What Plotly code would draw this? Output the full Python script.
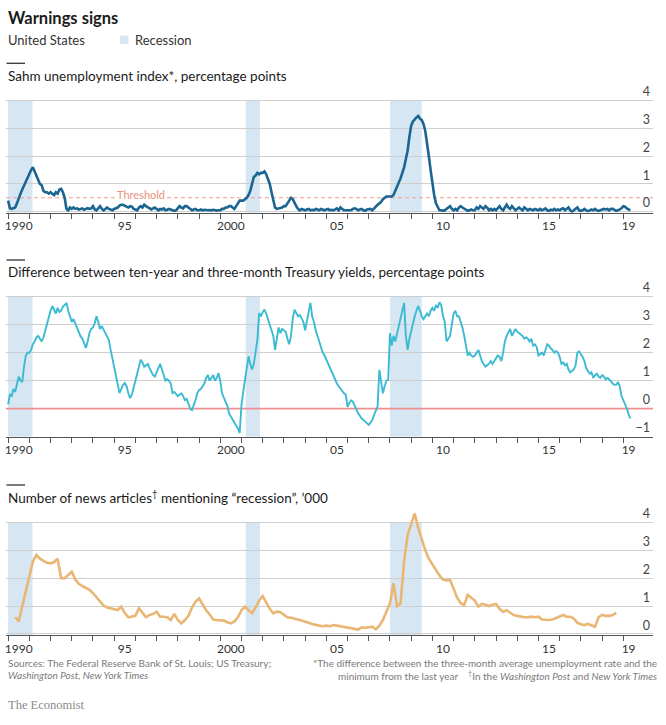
import plotly.graph_objects as go

# ---------------- data ----------------
START_YEAR = 1990  # monthly series start in January 1990

sahm_by_year = [
    [0.4, 0.12, 0.1, 0.12, 0.15, 0.3, 0.5, 0.65, 0.8, 0.95, 1.1, 1.25],      # 1990
    [1.4, 1.5, 1.6, 1.45, 1.3, 1.1, 1.0, 0.95, 0.75, 0.7, 0.7, 0.65],        # 1991
    [0.7, 0.65, 0.6, 0.7, 0.65, 0.8, 0.82, 0.7, 0.5, 0.1, 0.05, 0.15],       # 1992
    [0.1, 0.15, 0.1, 0.12, 0.08, 0.1, 0.12, 0.07, 0.1, 0.13, 0.1, 0.12],     # 1993
    [0.2, 0.08, 0.05, 0.12, 0.2, 0.1, 0.05, 0.1, 0.15, 0.1, 0.08, 0.05],     # 1994
    [0.1, 0.12, 0.15, 0.22, 0.25, 0.25, 0.22, 0.2, 0.15, 0.2, 0.18, 0.1],    # 1995
    [0.08, 0.05, 0.15, 0.2, 0.15, 0.25, 0.2, 0.15, 0.1, 0.08, 0.12, 0.15],   # 1996
    [0.1, 0.05, 0.1, 0.08, 0.12, 0.05, 0.07, 0.1, 0.08, 0.05, 0.03, 0.05],   # 1997
    [0.15, 0.2, 0.15, 0.12, 0.2, 0.2, 0.15, 0.1, 0.05, 0.08, 0.1, 0.05],     # 1998
    [0.05, 0.08, 0.05, 0.07, 0.05, 0.05, 0.06, 0.05, 0.07, 0.05, 0.04, 0.05],# 1999
    [0.05, 0.1, 0.1, 0.15, 0.15, 0.2, 0.2, 0.15, 0.1, 0.2, 0.3, 0.4],        # 2000
    [0.4, 0.4, 0.45, 0.5, 0.6, 0.75, 1.0, 1.25, 1.3, 1.4, 1.35, 1.4],        # 2001
    [1.4, 1.45, 1.35, 1.2, 1.0, 0.7, 0.4, 0.15, 0.1, 0.12, 0.15, 0.15],      # 2002
    [0.2, 0.2, 0.3, 0.4, 0.5, 0.45, 0.35, 0.2, 0.1, 0.05, 0.1, 0.08],        # 2003
    [0.05, 0.08, 0.1, 0.05, 0.07, 0.05, 0.1, 0.08, 0.05, 0.1, 0.07, 0.05],   # 2004
    [0.08, 0.1, 0.05, 0.07, 0.05, 0.1, 0.12, 0.05, 0.15, 0.1, 0.05, 0.05],   # 2005
    [0.05, 0.03, 0.05, 0.1, 0.12, 0.1, 0.05, 0.08, 0.1, 0.05, 0.03, 0.08],   # 2006
    [0.1, 0.1, 0.05, 0.12, 0.2, 0.25, 0.3, 0.35, 0.45, 0.5, 0.55, 0.55],     # 2007
    [0.55, 0.55, 0.6, 0.75, 0.85, 1.0, 1.2, 1.4, 1.6, 1.9, 2.2, 2.7],        # 2008
    [3.1, 3.25, 3.35, 3.4, 3.45, 3.35, 3.3, 3.15, 2.9, 2.5, 2.0, 1.5],       # 2009
    [1.0, 0.6, 0.3, 0.15, 0.05, 0.05, 0.03, 0.05, 0.1, 0.15, 0.2, 0.1],      # 2010
    [0.05, 0.1, 0.05, 0.15, 0.2, 0.15, 0.1, 0.05, 0.03, 0.05, 0.08, 0.05],   # 2011
    [0.05, 0.15, 0.1, 0.2, 0.15, 0.1, 0.2, 0.15, 0.05, 0.1, 0.05, 0.1],      # 2012
    [0.05, 0.15, 0.2, 0.1, 0.05, 0.15, 0.25, 0.15, 0.1, 0.2, 0.1, 0.05],     # 2013
    [0.1, 0.15, 0.1, 0.05, 0.15, 0.1, 0.05, 0.1, 0.08, 0.05, 0.1, 0.07],     # 2014
    [0.05, 0.1, 0.05, 0.08, 0.12, 0.05, 0.03, 0.07, 0.05, 0.1, 0.05, 0.08],  # 2015
    [0.05, 0.1, 0.12, 0.05, 0.1, 0.15, 0.05, 0.0, 0.05, 0.1, 0.15, 0.05],    # 2016
    [0.03, 0.05, 0.1, 0.05, 0.02, 0.05, 0.08, 0.05, 0.1, 0.05, 0.03, 0.05],  # 2017
    [0.08, 0.1, 0.08, 0.1, 0.05, 0.1, 0.1, 0.05, 0.03, 0.05, 0.08, 0.12],    # 2018
    [0.2, 0.18, 0.12, 0.08, 0.05],                                           # 2019
]

spread_by_year = [
    [0.15, 0.5, 0.45, 0.7, 0.6, 0.95, 1.15, 1.0, 0.95, 1.5, 1.9, 2.0],       # 1990
    [2.0, 2.1, 2.3, 2.4, 2.55, 2.6, 2.5, 2.4, 2.55, 2.8, 2.95, 3.3],         # 1991
    [3.5, 3.66, 3.5, 3.4, 3.6, 3.45, 3.5, 3.65, 3.7, 3.78, 3.5, 3.3],       # 1992
    [3.1, 3.2, 3.05, 2.9, 2.75, 2.58, 2.5, 2.3, 2.17, 2.4, 2.7, 2.85],      # 1993
    [2.9, 3.05, 3.3, 3.1, 2.85, 2.95, 2.8, 2.7, 2.58, 2.45, 2.1, 1.8],      # 1994
    [1.5, 1.2, 0.9, 0.56, 0.7, 0.85, 0.92, 0.8, 0.55, 0.38, 0.5, 0.75],     # 1995
    [1.0, 1.25, 1.5, 1.75, 1.65, 1.5, 1.55, 1.6, 1.45, 1.3, 1.2, 1.15],     # 1996
    [1.3, 1.45, 1.6, 1.4, 1.2, 1.0, 1.05, 1.0, 0.9, 0.56, 0.6, 0.5],        # 1997
    [0.45, 0.5, 0.55, 0.45, 0.31, 0.35, 0.2, 0.0, -0.05, 0.1, 0.3, 0.55],   # 1998
    [0.67, 0.7, 0.8, 0.9, 1.1, 1.2, 1.0, 1.1, 1.2, 1.0, 1.1, 1.27],         # 1999
    [1.0, 0.55, 0.4, 0.3, 0.1, -0.17, -0.3, -0.4, -0.5, -0.6, -0.7, -0.87], # 2000
    [0.13, 0.6, 1.0, 1.4, 1.87, 1.6, 1.4, 1.6, 2.0, 2.46, 3.42, 3.3],       # 2001
    [3.45, 3.54, 3.4, 3.2, 3.07, 2.8, 2.6, 2.1, 2.5, 2.9, 2.7, 2.85],       # 2002
    [2.8, 2.75, 2.5, 2.3, 2.6, 3.2, 3.54, 3.4, 3.3, 3.35, 3.25, 3.1],       # 2003
    [2.8, 3.1, 3.5, 3.78, 3.3, 3.1, 2.8, 2.6, 2.4, 2.22, 2.0, 1.9],         # 2004
    [1.75, 1.6, 1.45, 1.3, 1.15, 1.0, 0.9, 0.8, 0.7, 0.6, 0.55, 0.5],       # 2005
    [0.07, 0.2, 0.3, 0.25, 0.1, -0.05, -0.17, -0.25, -0.35, -0.4, -0.45, -0.5], # 2006
    [-0.58, -0.5, -0.4, -0.22, -0.1, 0.07, 1.39, 0.9, 0.55, 0.8, 1.0, 1.03],# 2007
    [2.7, 2.25, 2.6, 2.4, 2.7, 2.9, 3.2, 3.5, 3.78, 2.6, 2.1, 2.5],         # 2008
    [2.8, 3.0, 3.3, 3.5, 3.66, 3.5, 3.3, 3.2, 3.3, 3.4, 3.3, 3.5],          # 2009
    [3.6, 3.5, 3.7, 3.6, 3.8, 3.7, 3.3, 3.1, 2.4, 2.5, 2.6, 3.0],           # 2010
    [3.4, 3.5, 3.3, 3.3, 3.1, 2.9, 2.6, 2.2, 1.9, 2.0, 1.9, 1.85],          # 2011
    [1.9, 2.0, 2.1, 1.9, 1.7, 1.6, 1.5, 1.55, 1.6, 1.7, 1.6, 1.7],          # 2012
    [1.8, 1.9, 1.85, 1.7, 2.0, 2.4, 2.6, 2.75, 2.85, 2.6, 2.7, 2.85],       # 2013
    [2.75, 2.7, 2.65, 2.6, 2.5, 2.55, 2.5, 2.4, 2.5, 2.25, 2.3, 2.2],       # 2014
    [1.9, 1.95, 2.0, 1.9, 2.15, 2.3, 2.25, 2.15, 2.1, 2.0, 2.05, 2.0],      # 2015
    [1.85, 1.6, 1.65, 1.55, 1.6, 1.4, 1.3, 1.35, 1.4, 1.55, 2.0, 2.05],     # 2016
    [1.95, 1.85, 1.7, 1.45, 1.35, 1.25, 1.3, 1.1, 1.2, 1.25, 1.15, 1.1],    # 2017
    [1.2, 1.15, 1.05, 1.1, 1.05, 0.95, 0.9, 0.85, 0.85, 0.95, 0.8, 0.45],   # 2018
    [0.3, 0.2, 0.0, -0.2, -0.35],                                           # 2019
]

# news articles, '000, every two months starting May 1990
NEWS_START = 1990 + 4 / 12
NEWS_STEP = 2 / 12
news_values = [
    0.6, 0.45, 1.0, 1.55, 2.1, 2.6, 2.83, 2.7, 2.62, 2.55,
    2.53, 2.58, 2.7, 2.0, 2.0, 2.1, 2.23, 1.95, 1.8, 1.72,
    1.65, 1.58, 1.46, 1.3, 1.15, 1.02, 0.95, 0.92, 0.9, 0.86,
    0.98, 0.75, 0.6, 0.62, 0.65, 0.92, 0.75, 0.6, 0.68, 0.72,
    0.8, 0.62, 0.62, 0.6, 0.5, 0.72, 0.5, 0.38, 0.5, 0.65,
    0.95, 1.15, 1.28, 1.05, 0.85, 0.7, 0.52, 0.5, 0.5, 0.48,
    0.42, 0.38, 0.45, 0.6, 0.85, 0.98, 0.85, 0.74, 0.95, 1.2,
    1.36, 1.1, 0.9, 0.74, 0.8, 0.78, 0.68, 0.6, 0.58, 0.56,
    0.52, 0.48, 0.45, 0.4, 0.36, 0.32, 0.3, 0.28, 0.3, 0.28,
    0.32, 0.3, 0.28, 0.26, 0.24, 0.22, 0.2, 0.16, 0.24, 0.22,
    0.24, 0.26, 0.17, 0.3, 0.5, 0.8, 1.1, 1.82, 1.0, 1.1,
    2.6, 3.55, 3.9, 4.32, 3.8, 3.37, 3.0, 2.7, 2.5, 2.3,
    2.1, 1.95, 1.92, 1.94, 1.6, 1.3, 1.1, 1.04, 1.4, 1.3,
    1.2, 0.98, 1.08, 1.05, 1.0, 1.05, 1.08, 0.9, 0.8, 0.85,
    0.78, 0.68, 0.65, 0.62, 0.6, 0.6, 0.62, 0.6, 0.62, 0.52,
    0.5, 0.5, 0.52, 0.58, 0.62, 0.68, 0.62, 0.62, 0.55, 0.4,
    0.35, 0.32, 0.36, 0.3, 0.26, 0.6, 0.68, 0.65, 0.65, 0.68,
    0.76,
]

recession_start = [1990.0, 2001.2, 2008.0]
recession_end = [1991.15, 2001.87, 2009.5]

threshold = 0.5

year_ticks = list(range(1990, 2020))
label_pos = [1990.5, 1995.5, 2000.5, 2005.5, 2010.5, 2015.5, 2019.25]
label_text = ["1990", "95", "2000", "05", "10", "15", "19"]

# ---------------- helpers ----------------
def flatten(rows):
    return [v for r in rows for v in r]

sahm = flatten(sahm_by_year)
spread = flatten(spread_by_year)
sahm_x = [START_YEAR + i / 12 for i in range(len(sahm))]
spread_x = [START_YEAR + i / 12 for i in range(len(spread))]
news_x = [NEWS_START + i * NEWS_STEP for i in range(len(news_values))]

W, H = 666, 725
def px(p):
    return p / W
def py(p):
    return 1 - p / H

FONT = "Lato"
C_SAHM = "#1a6591"
C_SPREAD = "#3bbad1"
C_NEWS = "#e9b674"
C_REC = "#d7e6f3"
C_GRID = "#cfcfcf"
C_AXIS = "#555555"

XR = [1989.9, 2020.4]
XDOM = [px(6), px(653)]

def xaxis(anchor):
    return dict(
        range=XR, domain=XDOM, anchor=anchor,
        tickmode="array", tickvals=label_pos, ticktext=label_text,
        ticks="outside", ticklen=2, tickcolor="rgba(0,0,0,0)",
        minor=dict(tickmode="array", tickvals=year_ticks, ticks="outside",
                   ticklen=5, tickwidth=1, tickcolor=C_AXIS, showgrid=False),
        showline=True, linecolor=C_AXIS, linewidth=1,
        showgrid=False, zeroline=False,
        tickfont=dict(family=FONT, size=12, color="#333333"),
    )

def yaxis(anchor, rng, dom, tv):
    return dict(
        range=rng, domain=dom, anchor=anchor, side="right",
        tickmode="array", tickvals=tv,
        ticklabelposition="inside top", ticks="",
        showgrid=True, gridcolor=C_GRID, gridwidth=1,
        zeroline=False, showline=False,
        tickfont=dict(family=FONT, size=12.5, color="#444444"),
    )

fig = go.Figure()
fig.add_trace(go.Scatter(x=sahm_x, y=sahm, mode="lines", xaxis="x", yaxis="y",
                         line=dict(color=C_SAHM, width=2.6), hoverinfo="skip"))
fig.add_trace(go.Scatter(x=spread_x, y=spread, mode="lines", xaxis="x2", yaxis="y2",
                         line=dict(color=C_SPREAD, width=1.9), hoverinfo="skip"))
fig.add_trace(go.Scatter(x=news_x, y=news_values, mode="lines", xaxis="x3", yaxis="y3",
                         line=dict(color=C_NEWS, width=2.6), hoverinfo="skip"))

# panel pixel geometry (range top leaves room for the "4" label)
TOP = 4.75
P1 = dict(rng=[-0.04, TOP], dom=[py(212.8), py(211.7 - TOP * 27.75)], tv=[0, 1, 2, 3, 4])
P2 = dict(rng=[-1, TOP], dom=[py(436.7), py(408.7 - TOP * 28.0)], tv=[-1, 0, 1, 2, 3, 4])
P3 = dict(rng=[-0.04, TOP], dom=[py(635.1), py(634.0 - TOP * 27.9)], tv=[0, 1, 2, 3, 4])

shapes = []
for (xr, yr, P) in [("x", "y", P1), ("x2", "y2", P2), ("x3", "y3", P3)]:
    for a, b in zip(recession_start, recession_end):
        shapes.append(dict(type="rect", xref=xr, yref=yr, x0=a, x1=b,
                           y0=P["rng"][0], y1=4, fillcolor=C_REC,
                           line=dict(width=0), layer="below"))

# threshold line
shapes.append(dict(type="line", xref="x", yref="y", x0=XR[0], x1=XR[1],
                   y0=threshold, y1=threshold,
                   line=dict(color="#ee9f8f", width=1.1, dash="4px,3px"),
                   layer="between"))
# zero line of spread
shapes.append(dict(type="line", xref="x2", yref="y2", x0=XR[0], x1=XR[1],
                   y0=0, y1=0, line=dict(color="#ef8f8f", width=1.8),
                   layer="between"))

# short rules above panel titles
for yy in [63.3, 260, 485]:
    shapes.append(dict(type="line", xref="paper", yref="paper",
                       x0=px(6.5), x1=px(25), y0=py(yy), y1=py(yy),
                       line=dict(color="#333333", width=1.3)))
# legend swatch
shapes.append(dict(type="rect", xref="paper", yref="paper",
                   x0=px(120), x1=px(128.5), y0=py(44), y1=py(35.5),
                   fillcolor=C_REC, line=dict(width=0)))

annotations = []
def txt(x, y, s, size, color="#1a1a1a", xanchor="left", family=FONT, **kw):
    annotations.append(dict(x=px(x), y=py(y), xref="paper", yref="paper",
                            text=s, showarrow=False, xanchor=xanchor,
                            yanchor="middle",
                            font=dict(family=family, size=size, color=color), **kw))

txt(6, 18, "<b>Warnings signs</b>", 16.5, "#1a1a1a")
txt(6, 40, "United States", 13, "#333333")
txt(133, 40, "Recession", 13, "#333333")
txt(6, 76, "Sahm unemployment index*, percentage points", 13.5, "#1a1a1a")
txt(6, 271.7, "Difference between ten-year and three-month Treasury yields, percentage points", 13.5, "#1a1a1a")
txt(6, 496.7, "Number of news articles<sup>†</sup> mentioning “recession”, ’000", 13.5, "#1a1a1a")

annotations.append(dict(x=1996.25, y=0.62, xref="x", yref="y", text="Threshold",
                        showarrow=False, bgcolor="white", borderpad=1,
                        font=dict(family=FONT, size=11, color="#e8907c")))

FOOT = "#7a7a7a"
txt(6, 663, "Sources: The Federal Reserve Bank of St. Louis; US Treasury;", 10, FOOT)
txt(6, 675, "<i>Washington Post, New York Times</i>", 10, FOOT)
txt(659, 663, "*The difference between the three-month average unemployment rate and the",
    10, FOOT, xanchor="right")
txt(659, 675, "minimum from the last year\u00a0\u00a0\u00a0\u00a0<sup>†</sup>In the <i>Washington Post</i> and <i>New York Times</i>",
    10, FOOT, xanchor="right")
txt(6, 705, "The Economist", 12.5, "#8a8a8a", family="Liberation Serif")

fig.update_layout(
    width=W, height=H,
    margin=dict(l=0, r=0, t=0, b=0),
    paper_bgcolor="white", plot_bgcolor="white",
    showlegend=False,
    xaxis=xaxis("y"), xaxis2=xaxis("y2"), xaxis3=xaxis("y3"),
    yaxis=yaxis("x", **P1), yaxis2=yaxis("x2", **P2), yaxis3=yaxis("x3", **P3),
    shapes=shapes, annotations=annotations,
    font=dict(family=FONT),
)

fig.write_html("out.html", config={"displayModeBar": False},
               post_script="document.body.style.margin='0';document.body.style.overflow='hidden';")
